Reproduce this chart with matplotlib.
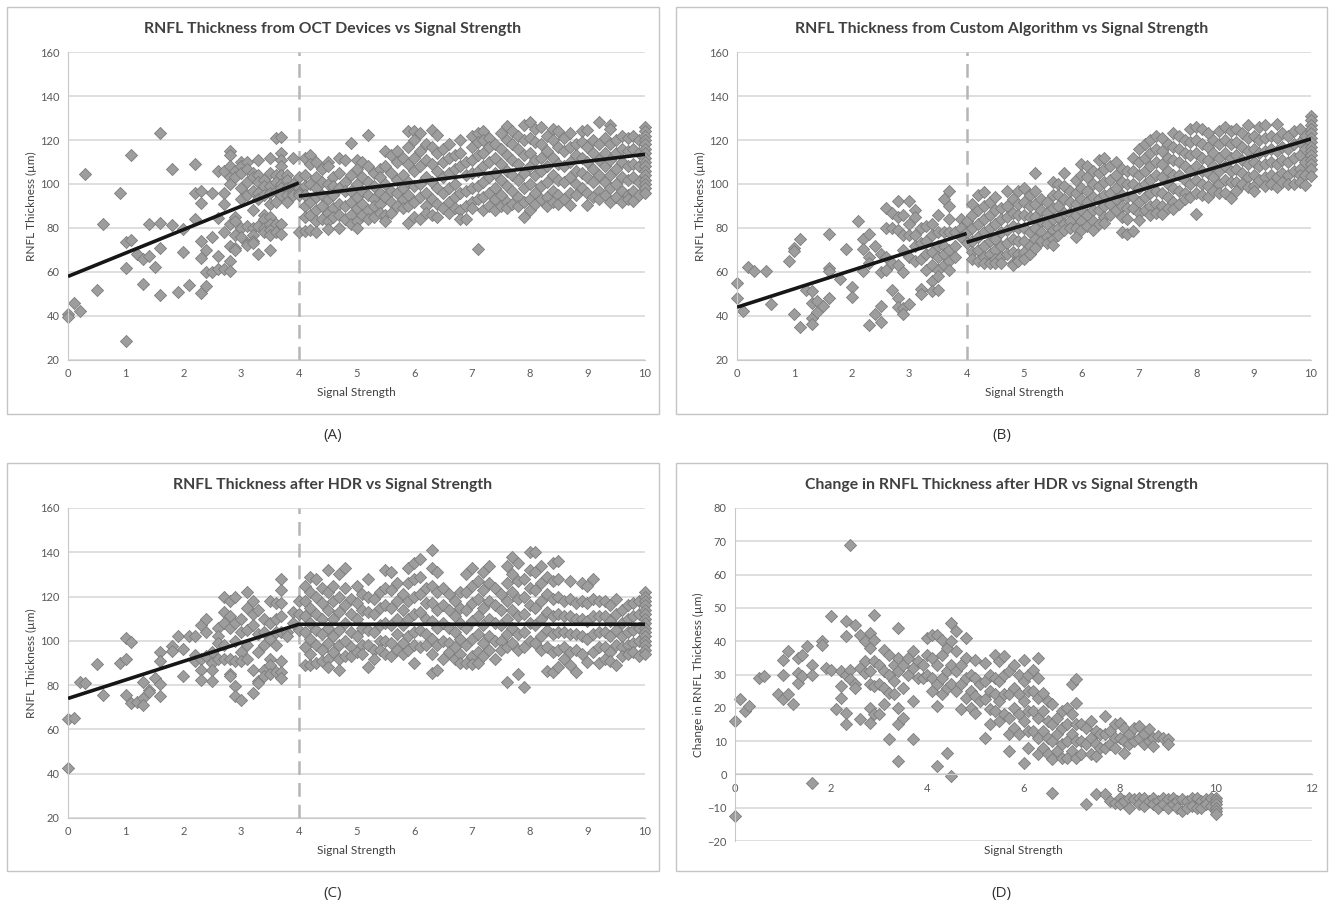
import matplotlib
matplotlib.use("Agg")
import matplotlib.pyplot as plt
from matplotlib.patches import Rectangle

# scatter points, grouped by signal strength
# (signal strength, [thickness values])
a_pts = [
    (0.0, [41, 39.5]), (0.1, [46]), (0.2, [42.5]), (0.3, [104.5]), (0.5, [52]),
    (0.6, [82]), (0.9, [96]), (1.0, [73.5, 62, 28.5]), (1.1, [74.5, 113]),
    (1.2, [68]), (1.3, [66, 54.5]), (1.4, [67.5, 82]), (1.5, [62.5]),
    (1.6, [123, 82.5, 71, 49.5]), (1.8, [107, 81.5]), (1.9, [51]),
    (2.0, [69, 79.5]), (2.1, [54]), (2.2, [109, 96, 84]),
    (2.3, [97, 91.5, 74, 66.5, 50.5]), (2.4, [70, 60, 53.5]), (2.5, [96, 76, 60]),
    (2.6, [106, 84.5, 67.5, 61.5]), (2.7, [106, 96, 91, 78, 61.5]),
    (2.8, [115, 113, 108, 103, 100, 82, 72, 65, 60.5]),
    (2.9, [106, 103, 85, 83, 77, 71, 70]), (3.0, [110, 108, 105, 98, 93, 80, 76]),
    (3.1, [110, 107, 101, 95, 81, 73, 72.5]), (3.2, [105, 103, 97, 88, 80, 77, 74, 73]),
    (3.3, [111, 104, 101, 96, 93, 81, 68]), (3.4, [102, 99, 95, 86, 84, 80, 78]),
    (3.5, [112, 105, 99, 96, 91, 85, 82, 79, 77, 70]),
    (3.6, [121, 104, 101, 97, 92, 82, 78]),
    (3.7, [121.5, 114, 111, 108, 104, 100, 98, 95, 82, 77.5]),
    (3.8, [104, 102, 98, 95, 92]), (3.9, [112, 100, 97, 96, 95]),
    (4.0, [103, 98, 96, 95, 78]),
    (4.1, [112, 104, 99, 95, 90, 85, 78.5]), (4.2, [113, 109, 100, 92, 86, 79]),
    (4.3, [110, 103, 98, 94, 88, 83, 78]), (4.4, [107, 101, 95, 90, 84]),
    (4.5, [110, 108, 100, 93, 87, 83, 79.5]), (4.6, [103, 99, 95, 89, 85]),
    (4.7, [112, 105, 98, 91, 86, 80]), (4.8, [111, 101, 97, 90, 84]),
    (4.9, [118.5, 104, 97, 92, 86, 82]), (5.0, [111, 107, 100, 94, 89, 83, 80]),
    (5.1, [110, 103, 97, 91, 86]), (5.2, [122.5, 108, 101, 95, 88, 84]),
    (5.3, [105, 99, 93, 90, 85]), (5.4, [107, 103, 96, 91, 87]),
    (5.5, [115, 108, 100, 94, 86, 83]), (5.6, [113, 105, 97, 92, 87]),
    (5.7, [115, 110, 102, 96, 90]), (5.8, [112, 104, 98, 93, 89]),
    (5.9, [124, 117, 109, 101, 95, 90, 82.5]), (6.0, [124, 120, 112, 106, 99, 92, 85]),
    (6.1, [123, 115, 108, 100, 94, 84]), (6.2, [118, 111, 103, 96, 90, 87]),
    (6.3, [124.5, 117, 109, 101, 93, 86]), (6.4, [122.5, 114, 106, 98, 91, 85]),
    (6.5, [116, 110, 103, 96, 89]), (6.6, [118, 112, 105, 98, 92, 87]),
    (6.7, [113, 107, 100, 94, 89]), (6.8, [120, 114, 108, 96, 88, 84]),
    (6.9, [110, 104, 97, 90, 84]), (7.0, [122, 117, 111, 105, 98, 92, 89]),
    (7.1, [123, 119, 113, 106, 99, 93, 70.5]), (7.2, [124, 120, 114, 108, 101, 94, 88]),
    (7.3, [121, 117, 110, 103, 96, 90]), (7.4, [118, 112, 105, 98, 93, 88]),
    (7.5, [123, 116, 109, 102, 95, 90]), (7.6, [126.5, 120, 113, 106, 99, 92, 89]),
    (7.7, [124, 118, 111, 104, 97, 91]), (7.8, [122, 116, 109, 102, 94, 90]),
    (7.9, [127, 120, 113, 105, 98, 92, 85]), (8.0, [128, 121, 114, 108, 100, 93, 88]),
    (8.1, [125, 119, 111, 104, 96, 91]), (8.2, [126, 118, 112, 106, 99, 93]),
    (8.3, [122, 115, 108, 101, 94, 90]), (8.4, [125, 120, 112, 104, 97, 92]),
    (8.5, [124, 117, 109, 102, 95, 91]), (8.6, [121, 115, 108, 101, 93]),
    (8.7, [123, 117, 110, 103, 96, 90.5]), (8.8, [118, 113, 106, 100, 95]),
    (8.9, [124, 119, 112, 105, 98]), (9.0, [124.5, 117, 110, 103, 96, 90.5]),
    (9.1, [120, 114, 107, 101, 94]), (9.2, [128, 118, 111, 104, 97, 93]),
    (9.3, [121, 114, 108, 101, 95]), (9.4, [127, 125, 118, 111, 104, 98, 92]),
    (9.5, [120, 114, 107, 100, 94]), (9.6, [122, 116, 110, 103, 97, 92]),
    (9.7, [121, 115, 108, 102, 95, 93]), (9.8, [122, 116, 109, 103, 97, 92.5]),
    (9.9, [120, 114, 108, 101, 95]),
    (10.0, [126, 124, 122, 120, 118, 116, 114, 112, 110, 108, 106, 104, 102, 100, 98, 96]),
]

b_pts = [
    (0.0, [55, 48]), (0.1, [42.5]), (0.2, [62.5]), (0.3, [60.5]), (0.5, [60.5]),
    (0.6, [45.5]), (0.9, [65]), (1.0, [71, 69.5, 41]), (1.1, [75, 35]),
    (1.2, [52]), (1.3, [51.5, 46, 39, 36.5]), (1.4, [47, 42]), (1.5, [44.5]),
    (1.6, [77.5, 62, 60.5, 48]), (1.8, [57]), (1.9, [70.5]), (2.0, [53, 48.5]),
    (2.1, [83]), (2.2, [75, 70.5, 60.5]), (2.3, [77.5, 67, 64, 36]), (2.4, [72, 41]),
    (2.5, [68, 60, 44.5, 37.5]), (2.6, [89, 80, 67, 61]), (2.7, [87, 80, 64, 52]),
    (2.8, [92.5, 85, 79, 63, 48, 44]), (2.9, [86, 77, 70, 60, 43.5, 41]),
    (3.0, [92.5, 82, 77, 67, 45.5]), (3.1, [88, 85, 77, 72, 65]),
    (3.2, [80, 73, 66, 52.5, 50]), (3.3, [81, 74, 68, 61]),
    (3.4, [82, 77, 69, 63, 56, 51.5]), (3.5, [86, 78, 72, 67, 61, 58, 52]),
    (3.6, [93, 78, 72, 68, 63]), (3.7, [97, 90, 84, 78, 70, 65, 61]),
    (3.8, [78, 72, 67]), (3.9, [84, 80, 76]), (4.0, [83, 78, 73]),
    (4.1, [91, 86, 80, 74, 69, 66]), (4.2, [95, 88, 82, 76, 70, 65]),
    (4.3, [96.5, 90, 84, 78, 72, 67, 64]), (4.4, [92, 86, 80, 74, 68, 64]),
    (4.5, [94, 88, 82, 75, 70, 66, 64]), (4.6, [89, 84, 78, 72, 67, 64]),
    (4.7, [97, 90, 85, 79, 73, 68]), (4.8, [93, 87, 81, 75, 69, 64, 63]),
    (4.9, [97, 91, 86, 80, 74, 68, 65]), (5.0, [98, 92, 86, 80, 74, 69, 66]),
    (5.1, [95, 90, 85, 78, 72, 68]), (5.2, [105, 97, 91, 85, 80, 75, 71]),
    (5.3, [93, 88, 83, 78, 74]), (5.4, [92, 87, 82, 76, 73]),
    (5.5, [101, 95, 89, 84, 79, 75, 72.5]), (5.6, [100, 95, 90, 85, 80, 77]),
    (5.7, [105, 99, 93, 87, 82, 79]), (5.8, [97, 92, 87, 83, 80]),
    (5.9, [102, 96, 91, 86, 80, 76]), (6.0, [109, 104, 98, 93, 88, 83, 79]),
    (6.1, [108, 103, 97, 92, 86, 81]), (6.2, [106, 100, 94, 88, 83, 79]),
    (6.3, [111, 105, 99, 93, 88, 82]), (6.4, [112, 107, 101, 95, 90, 85, 82.5]),
    (6.5, [108, 102, 96, 91, 86]), (6.6, [110, 104, 98, 93, 88]),
    (6.7, [107, 101, 95, 90, 85, 78]), (6.8, [106, 100, 94, 89, 84, 77.5]),
    (6.9, [112, 106, 100, 94, 89, 78.5]), (7.0, [116, 110, 104, 98, 92, 87, 83.5]),
    (7.1, [118, 112, 106, 100, 94, 88]), (7.2, [120, 114, 108, 102, 96, 90, 86]),
    (7.3, [122, 116, 110, 104, 97, 91, 87]), (7.4, [121, 115, 109, 103, 96, 90, 86.5]),
    (7.5, [118, 112, 106, 100, 94, 89]), (7.6, [123, 117, 111, 104, 98, 92, 88.5]),
    (7.7, [122, 116, 110, 104, 97, 91]), (7.8, [120, 114, 108, 102, 96, 93]),
    (7.9, [125, 119, 113, 106, 100, 94]), (8.0, [126, 120, 114, 108, 102, 96, 86.5]),
    (8.1, [125, 118, 112, 106, 100, 95]), (8.2, [123, 117, 111, 105, 99, 94]),
    (8.3, [120, 114, 108, 103, 97]), (8.4, [124, 118, 112, 106, 100, 96]),
    (8.5, [126, 120, 114, 108, 102, 96]), (8.6, [124, 118, 112, 106, 101, 93.5]),
    (8.7, [125, 119, 113, 107, 101, 97]), (8.8, [123, 117, 111, 105, 100]),
    (8.9, [127, 121, 115, 109, 103, 98.5]), (9.0, [122, 116, 110, 104, 99, 97]),
    (9.1, [126, 120, 114, 108, 102]), (9.2, [127, 121, 115, 109, 103, 99]),
    (9.3, [122, 116, 110, 104, 100]), (9.4, [127.5, 121, 115, 109, 103, 98.5]),
    (9.5, [123, 117, 111, 105, 101]), (9.6, [122, 116, 110, 104, 100]),
    (9.7, [124, 118, 112, 106, 100]), (9.8, [125, 119, 113, 107, 104, 101]),
    (9.9, [122, 116, 110, 104, 99.5]),
    (10.0, [131, 129, 127, 125, 123, 121, 119, 117, 115, 113, 111, 109, 107, 103.5]),
]

c_pts = [
    (0.0, [64.5, 42.5]), (0.1, [65]), (0.2, [81.5]), (0.3, [81]), (0.5, [89.5]),
    (0.6, [75.5]), (0.9, [90]), (1.0, [101.5, 92, 75.5]), (1.1, [99.5, 72]),
    (1.2, [72.5]), (1.3, [81.5, 74, 71]), (1.4, [78, 77]), (1.5, [83]),
    (1.6, [95, 91, 80.5, 75]), (1.8, [97.5, 95.5]), (1.9, [102]), (2.0, [96.5, 84]),
    (2.1, [102]), (2.2, [102, 93.5, 91]), (2.3, [107, 92, 87, 82.5]),
    (2.4, [110, 104, 93]), (2.5, [95, 90, 87, 82]), (2.6, [106, 102, 99, 92]),
    (2.7, [120, 113, 108, 98, 92]), (2.8, [118, 111, 106, 92, 85, 84]),
    (2.9, [120, 108, 100, 91, 79.5, 75]), (3.0, [110, 104, 95, 91, 73.5]),
    (3.1, [122, 115, 105, 98, 92]), (3.2, [118, 112, 107, 87, 76.5]),
    (3.3, [114, 103, 95, 82, 81]), (3.4, [110, 104, 98, 87, 84]),
    (3.5, [118, 108, 101, 92, 89, 85]), (3.6, [117, 110, 104, 98, 86]),
    (3.7, [128, 123, 117, 111, 104, 91, 86, 83]), (3.8, [104, 102]),
    (3.9, [113, 108]), (4.0, [118, 112, 105]),
    (4.1, [125, 118, 111, 104, 97, 89]), (4.2, [129, 122, 115, 108, 101, 94, 89]),
    (4.3, [128, 120, 112, 105, 98, 90]), (4.4, [124, 117, 110, 103, 96, 91]),
    (4.5, [132, 122, 114, 106, 99, 92, 88]), (4.6, [125, 118, 110, 102, 95]),
    (4.7, [130, 120, 113, 105, 98, 92, 87]), (4.8, [133, 124, 116, 108, 100, 93]),
    (4.9, [119, 112, 104, 97, 93]), (5.0, [125, 117, 110, 102, 95]),
    (5.1, [121, 114, 106, 98, 94]), (5.2, [128, 120, 113, 105, 98, 88]),
    (5.3, [119, 112, 104, 96, 92]), (5.4, [122, 115, 107, 100, 96]),
    (5.5, [132, 124, 116, 108, 100, 94]), (5.6, [131, 123, 115, 107, 99, 93]),
    (5.7, [126, 118, 110, 103, 96]), (5.8, [121, 114, 107, 99, 94]),
    (5.9, [133, 126, 118, 110, 102, 96]), (6.0, [135, 128, 120, 112, 104, 98, 90]),
    (6.1, [137, 129, 121, 113, 105, 97]), (6.2, [124, 117, 110, 103, 98]),
    (6.3, [141, 133, 125, 117, 109, 101, 94, 85.5]), (6.4, [131, 122, 114, 106, 98, 87]),
    (6.5, [124, 116, 108, 100, 92]), (6.6, [121, 114, 106, 99, 95]),
    (6.7, [118, 111, 104, 97, 92]), (6.8, [122, 115, 108, 101, 94, 90]),
    (6.9, [130, 122, 114, 106, 98, 90]), (7.0, [133, 125, 117, 109, 101, 93, 89.5]),
    (7.1, [127, 119, 111, 103, 95, 90]), (7.2, [131, 123, 115, 107, 99, 93]),
    (7.3, [134, 126, 118, 110, 102, 96]), (7.4, [124, 116, 108, 100, 92]),
    (7.5, [121, 114, 107, 100, 96]), (7.6, [134, 126, 118, 110, 103, 97, 81.5]),
    (7.7, [138, 130, 122, 114, 106, 99]), (7.8, [135, 127, 119, 111, 103, 96, 85]),
    (7.9, [128, 120, 112, 104, 97, 79]), (8.0, [140, 132, 124, 116, 108, 100]),
    (8.1, [140, 131, 123, 115, 107, 99]), (8.2, [134, 126, 118, 110, 102, 96]),
    (8.3, [129, 121, 113, 105, 97, 86.5]), (8.4, [135, 127, 119, 111, 103, 95, 86]),
    (8.5, [136, 128, 120, 112, 104, 96, 88]), (8.6, [118, 111, 104, 97, 92]),
    (8.7, [127, 119, 111, 103, 95, 89]), (8.8, [117, 110, 103, 96, 86]),
    (8.9, [126, 118, 110, 102, 94]), (9.0, [125, 117, 109, 101, 90.5]),
    (9.1, [128, 119, 111, 103, 95]), (9.2, [118, 111, 104, 97, 90]),
    (9.3, [118, 111, 104, 97, 92]), (9.4, [116, 109, 102, 95, 91]),
    (9.5, [119, 112, 105, 98, 89]), (9.6, [114, 108, 102, 97, 93]),
    (9.7, [116, 110, 104, 98, 94]), (9.8, [117, 111, 105, 99, 95]),
    (9.9, [118, 112, 106, 100, 93]),
    (10.0, [122, 120, 118, 116, 114, 112, 110, 108, 106, 104, 102, 100, 98, 96, 94]),
]

d_pts = [
    (0.0, [16, -12.5]), (0.1, [22.5]), (0.2, [19]), (0.3, [20.5]), (0.5, [29]),
    (0.6, [29.5]), (0.9, [24]), (1.0, [34.5, 30, 22.5]), (1.1, [37, 24]),
    (1.2, [21]), (1.3, [35, 30.5, 27.5]), (1.4, [36, 29.5]), (1.5, [38.5]),
    (1.6, [33, 30, -2.5]), (1.8, [40, 39]), (1.9, [32]), (2.0, [47.5, 31.5]),
    (2.1, [19.5]), (2.2, [31, 26.5, 23]), (2.3, [46, 41.5, 30, 18.5, 15]),
    (2.4, [69, 31.5, 28.5]), (2.5, [45, 27, 26]), (2.6, [42, 32, 16.5]),
    (2.7, [40, 34, 30.5]), (2.8, [42.5, 38, 31, 27, 20, 15.5]),
    (2.9, [48, 40.5, 34, 26.5, 18]), (3.0, [33, 27, 18]),
    (3.1, [37.5, 31, 26, 21]), (3.2, [36, 30, 24.5, 10.5]), (3.3, [33, 28, 24]),
    (3.4, [44, 35, 31, 20, 15, 4]), (3.5, [33, 26, 17]), (3.6, [35, 30]),
    (3.7, [37, 32, 22, 10.5]), (3.8, [34, 29]), (3.9, [33, 29]),
    (4.0, [41, 36, 30]), (4.1, [42, 35, 29, 25]), (4.2, [42, 33, 27, 20.5, 2.5]),
    (4.3, [40.5, 36, 29, 24]), (4.4, [38, 31, 26, 6.5]),
    (4.5, [45.5, 40, 33, 27, -0.5]), (4.6, [43, 37, 31, 25]), (4.7, [33, 27, 19.5]),
    (4.8, [41, 35, 29, 23]), (4.9, [30, 25, 20]), (5.0, [34.5, 29, 23.5, 18.5]),
    (5.1, [27, 22]), (5.2, [33.5, 28, 22.5, 11]), (5.3, [30, 25, 19.5, 15]),
    (5.4, [36, 29, 24, 19]), (5.5, [34, 28, 22, 16]), (5.6, [35.5, 30, 24, 18]),
    (5.7, [31, 24, 17, 12, 7]), (5.8, [33, 26, 20, 14]), (5.9, [30, 24, 18, 12]),
    (6.0, [34.5, 28, 22, 16, 3.5]), (6.1, [30, 25, 19, 13, 8]),
    (6.2, [31.5, 25, 19, 13]), (6.3, [35, 29, 23, 17, 11, 6]),
    (6.4, [24.5, 19, 13, 8]), (6.5, [22, 16, 11, 6]), (6.6, [21, 15, 10, 4.5, -5.5]),
    (6.7, [17, 12, 7]), (6.8, [19, 14, 9, 5]), (6.9, [20, 15, 10, 5]),
    (7.0, [27, 18, 12, 7]), (7.1, [28.5, 21.5, 15, 10, 5]), (7.2, [15, 10, 6]),
    (7.3, [14, 9, -9]), (7.4, [16, 11, 6]), (7.5, [13, 9, 5.5, -6]), (7.6, [12, 8]),
    (7.7, [17.5, 12, 8, -6]), (7.8, [13, 9, -8]), (7.9, [15, 11, 8, -8.5]),
    (8.0, [15.5, 11, -7, -9]), (8.1, [14, 10, 6.5, -8]), (8.2, [12, 9, -7, -10]),
    (8.3, [14, 10, -7.5]), (8.4, [14.5, 11, -7, -9]), (8.5, [12, 9, -7, -9.5]),
    (8.6, [13.5, 10, -8]), (8.7, [11, 8.5, -7, -9]), (8.8, [11.5, -8, -10]),
    (8.9, [11, -7, -9]), (9.0, [10.5, 9, -7.5, -10]), (9.1, [-7, -9]),
    (9.2, [-8, -10]), (9.3, [-7.5, -11]), (9.4, [-8, -10]), (9.5, [-7, -9.5]),
    (9.6, [-7, -10]), (9.7, [-8, -10]), (9.8, [-7.5, -9]), (9.9, [-7, -9.5]),
    (10.0, [-7, -8, -9, -10, -11, -12]),
]

# piecewise fit lines (x, y)
a_fit = [([0, 4], [58, 100.5]), ([4, 10], [94.5, 113.5])]
b_fit = [([0, 4], [44, 77.5]), ([4, 10], [73.5, 120.5])]
c_fit = [([0, 4, 10], [74, 107.5, 107.5])]

titles = ["RNFL Thickness from OCT Devices vs Signal Strength",
          "RNFL Thickness from Custom Algorithm vs Signal Strength",
          "RNFL Thickness after HDR vs Signal Strength",
          "Change in RNFL Thickness after HDR vs Signal Strength"]
ylabels = ["RNFL Thickness (\u00b5m)"] * 3 + ["Change in RNFL Thickness (\u00b5m)"]
letters = ["(A)", "(B)", "(C)", "(D)"]

W, H = 1330, 906
FONT = ["Lato", "DejaVu Sans"]
fig = plt.figure(figsize=(W / 100, H / 100), dpi=100)


def fx(px):
    return px / W


def fy(py):
    return 1 - py / H


def unpack(pts):
    xs, ys = [], []
    for x, vals in pts:
        for v in vals:
            xs.append(x)
            ys.append(v)
    return xs, ys


# pixel layout: (frame x0, x1, y0, y1), (axes x0, x1, y top, y bottom)
layout = [
    ((7, 659, 7, 414), (68, 645, 52, 360)),
    ((676, 1327, 7, 414), (737, 1311, 52, 360)),
    ((7, 659, 463, 871), (68, 645, 508, 818)),
    ((676, 1327, 463, 871), (735, 1312, 508, 841)),
]
data = [a_pts, b_pts, c_pts, d_pts]
fits = [a_fit, b_fit, c_fit, []]

for i in range(4):
    (f0, f1, g0, g1), (x0, x1, yt, yb) = layout[i]
    fig.add_artist(Rectangle((fx(f0), fy(g1)), fx(f1 - f0), (g1 - g0) / H,
                             transform=fig.transFigure, fill=False,
                             ec="#c4c4c4", lw=1))
    ax = fig.add_axes([fx(x0), fy(yb), fx(x1 - x0), (yb - yt) / H])
    xs, ys = unpack(data[i])

    if i < 3:
        ax.set_xlim(0, 10)
        ax.set_ylim(20, 160)
        ax.set_xticks(range(0, 11))
        ax.set_yticks(range(20, 161, 20))
        ax.axvline(4, color="#b5b5b5", lw=1.8, ls=(0, (5.5, 3.2)), zorder=1)
    else:
        ax.set_xlim(0, 12)
        ax.set_ylim(-20, 80)
        ax.set_xticks(range(0, 13, 2))
        ax.set_yticks(range(-20, 81, 10))
        ax.spines["bottom"].set_position(("data", 0))

    ax.yaxis.grid(True, color="#d6d6d6", lw=1.1, zorder=0)
    ax.set_axisbelow(True)
    for s in ["top", "right"]:
        ax.spines[s].set_visible(False)
    ax.spines["left"].set_color("#c8c8c8")
    ax.spines["bottom"].set_color("#c8c8c8")
    ax.tick_params(length=0, labelsize=8, labelcolor="#595959", pad=6)
    for lab in ax.get_xticklabels() + ax.get_yticklabels():
        lab.set_family(FONT)

    ax.scatter(xs, ys, marker="D", s=38, facecolor="#9d9d9d",
               edgecolor="#7c7c7c", linewidth=0.6, zorder=2, clip_on=False)
    for fxs, fys in fits[i]:
        ax.plot(fxs, fys, color="#161616", lw=2.6, solid_capstyle="butt", zorder=3)

    cx = (f0 + f1) / 2
    fig.text(fx(cx), fy(g0 + 22), titles[i], ha="center", va="center",
             fontsize=11.3, fontweight="bold", color="#404040", family=FONT)
    fig.text(fx((x0 + x1) / 2), fy(yb + 33 if i < 3 else yb + 10),
             "Signal Strength", ha="center", va="center",
             fontsize=8.5, color="#404040", family=FONT)
    fig.text(fx(x0 - 37), fy((yt + yb) / 2), ylabels[i], ha="center",
             va="center", rotation=90, fontsize=8.5, color="#404040", family=FONT)
    fig.text(fx(cx), fy(g1 + 22), letters[i], ha="center", va="center",
             fontsize=11, color="#333333", family=["Open Sans", "DejaVu Sans"])

fig.savefig("out.png", dpi=100)
